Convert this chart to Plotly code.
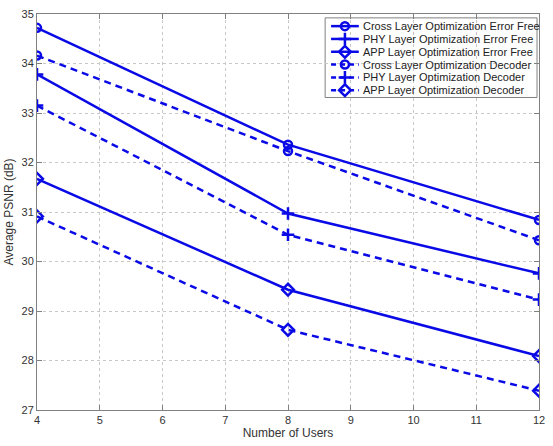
import plotly.graph_objects as go

users = [4, 8, 12]
cross_ef = [34.72, 32.36, 30.84]
phy_ef = [33.78, 30.97, 29.76]
app_ef = [31.67, 29.43, 28.09]
cross_dec = [34.16, 32.23, 30.43]
phy_dec = [33.15, 30.54, 29.23]
app_dec = [30.91, 28.62, 27.39]

names = [
    "Cross Layer Optimization Error Free",
    "PHY Layer Optimization Error Free",
    "APP Layer Optimization Error Free",
    "Cross Layer Optimization Decoder",
    "PHY Layer Optimization Decoder",
    "APP Layer Optimization Decoder",
]
series = [cross_ef, phy_ef, app_ef, cross_dec, phy_dec, app_dec]
symbols = ["circle-open", "cross-thin-open", "diamond-open"] * 2
sizes = [8, 9, 9] * 2
dashes = ["solid"] * 3 + ["7px,5px"] * 3
color = "#0a0ae6"
font_family = "Liberation Sans, Arial"

W, H = 553, 446
L, R, T, B = 35, 11, 8, 30

fig = go.Figure()
for n, s, sym, sz, d in zip(names, series, symbols, sizes, dashes):
    fig.add_trace(go.Scatter(
        x=users, y=s, name=n, mode="lines+markers", showlegend=False,
        line=dict(color=color, width=2.5, dash=d),
        marker=dict(symbol=sym, size=sz, color=color, line=dict(color=color, width=2.5)),
    ))

# custom compact legend drawn on a pixel-space overlay axis
box_x0, box_x1, box_y0 = 326, 540, 12
row_h = 13.2
row0 = box_y0 + 8.5
smp_x0, smp_x1 = 332, 360
for i, (n, sym, sz, d) in enumerate(zip(names, symbols, sizes, dashes)):
    yy = row0 + i * row_h
    fig.add_trace(go.Scatter(
        x=[smp_x0, smp_x1], y=[yy, yy], xaxis="x2", yaxis="y2", mode="lines",
        showlegend=False, hoverinfo="skip",
        line=dict(color=color, width=2.5, dash=d if d == "solid" else "5px,4px"),
    ))
    fig.add_trace(go.Scatter(
        x=[(smp_x0 + smp_x1) / 2], y=[yy], xaxis="x2", yaxis="y2", mode="markers",
        showlegend=False, hoverinfo="skip",
        marker=dict(symbol=sym, size=sz, color=color, line=dict(color=color, width=2.5)),
    ))
    fig.add_annotation(
        x=362, y=yy, xref="x2", yref="y2", text=n, showarrow=False,
        xanchor="left", yanchor="middle",
        font=dict(family=font_family, size=11, color="#222222"),
    )
box_y1 = row0 + 5 * row_h + 7.5
fig.add_shape(type="rect", xref="x2", yref="y2", x0=box_x0, x1=box_x1, y0=box_y0, y1=box_y1,
              line=dict(color="#808080", width=1), fillcolor="white", layer="below")

axis_common = dict(
    showline=True, linecolor="#808080", linewidth=1, mirror="ticks",
    showgrid=True, gridcolor="#c8c8c8", griddash="dot", gridwidth=1,
    ticks="inside", ticklen=5, tickcolor="#808080", zeroline=False,
    tickfont=dict(family=font_family, size=11, color="#333333"),
)
fig.update_xaxes(range=[4, 12], dtick=1, title=dict(text="Number of Users", standoff=3,
                 font=dict(family=font_family, size=12, color="#333333")), **axis_common)
fig.update_yaxes(range=[27, 35], dtick=1, title=dict(text="Average PSNR (dB)", standoff=5,
                 font=dict(family=font_family, size=12, color="#333333")), **axis_common)

fig.update_layout(
    width=W, height=H,
    margin=dict(l=L, r=R, t=T, b=B),
    plot_bgcolor="white", paper_bgcolor="white",
    showlegend=False,
    xaxis2=dict(overlaying="x", range=[L, W - R], visible=False, fixedrange=True),
    yaxis2=dict(overlaying="y", range=[H - B, T], visible=False, fixedrange=True),
)

fig.write_html("out.html")
